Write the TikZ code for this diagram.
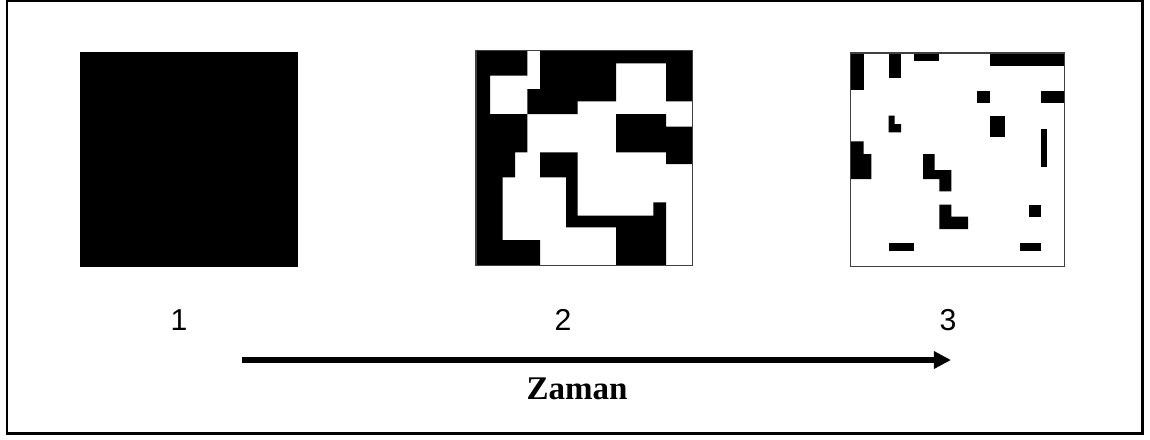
\documentclass[tikz,border=0pt]{standalone}
\usepackage{fontspec}
\setmainfont{Liberation Serif}
\newfontfamily\arialf{Liberation Sans}
\usetikzlibrary{arrows.meta}
\begin{document}
\begin{tikzpicture}[x=0.25mm,y=-0.25mm,
  frame/.style={draw=black,line width=0.65mm},
  blk/.style={fill=black,draw=none},
  sqborder/.style={draw=black!75,line width=0.35mm,fill=white},
  numlbl/.style={font=\arialf\fontsize{21.5}{24}\selectfont,inner sep=0pt},
  timelbl/.style={font=\bfseries\fontsize{23.5}{26}\selectfont,inner sep=0pt,anchor=base},
  timearrow/.style={line width=1.4mm,-{Triangle[length=4.3mm,width=4.2mm]}}]
\useasboundingbox (0,0) rectangle (1150,439);
\draw[frame] (7,1) rectangle (1142.5,433.5);
% square 1
\fill[blk] (80,52) rectangle (298,267);
% square 2
\begin{scope}[shift={(470,44)},scale=1/3]
  \draw[sqborder] (18,20) rectangle (668,665);
  \fill[blk] (18,20) -- (172,20) -- (172,95) -- (60,95) -- (60,210) -- (172,210) -- (172,325) -- (135,325) -- (135,400) -- (98,400) -- (98,588) -- (210,588) -- (210,665) -- (18,665) -- cycle;
  \fill[blk] (210,20) -- (668,20) -- (668,172) -- (588,172) -- (588,58) -- (438,58) -- (438,172) -- (323,172) -- (323,210) -- (172,210) -- (172,135) -- (210,135) -- cycle;
  \fill[blk] (438,210) -- (588,210) -- (588,248) -- (668,248) -- (668,360) -- (588,360) -- (588,325) -- (438,325) -- cycle;
  \fill[blk] (210,325) -- (323,325) -- (323,515) -- (550,515) -- (550,475) -- (588,475) -- (588,665) -- (438,665) -- (438,550) -- (288,550) -- (288,400) -- (210,400) -- cycle;
  \draw[draw=black!75,line width=0.35mm] (18,20) rectangle (668,665);
\end{scope}
% square 3
\begin{scope}[shift={(842,44)},scale=1/3]
  \draw[sqborder] (25,27) rectangle (668,668);
  \fill[blk] (25,27) rectangle (65,138);
  \fill[blk] (140,27) rectangle (177,102);
  \fill[blk] (215,27) rectangle (292,50);
  \fill[blk] (445,27) rectangle (668,65);
  \fill[blk] (405,140) rectangle (445,177);
  \fill[blk] (597,140) rectangle (668,177);
  \fill[blk] (140,215) -- (158,215) -- (158,240) -- (177,240) -- (177,265) -- (140,265) -- cycle;
  \fill[blk] (445,215) rectangle (490,280);
  \fill[blk] (597,255) rectangle (615,368);
  \fill[blk] (25,292) -- (65,292) -- (65,330) -- (88,330) -- (88,405) -- (25,405) -- cycle;
  \fill[blk] (243,330) -- (278,330) -- (278,378) -- (328,378) -- (328,442) -- (292,442) -- (292,405) -- (243,405) -- cycle;
  \fill[blk] (292,482) -- (328,482) -- (328,518) -- (378,518) -- (378,555) -- (292,555) -- cycle;
  \fill[blk] (560,482) rectangle (597,518);
  \fill[blk] (140,597) rectangle (217,622);
  \fill[blk] (533,597) rectangle (597,622);
  \draw[draw=black!75,line width=0.35mm] (25,27) rectangle (668,668);
\end{scope}
% labels
\node[numlbl] (l1) at (179,320) {1};
\node[numlbl] (l2) at (563,320) {2};
\node[numlbl] (l3) at (948,320) {3};
% time arrow
\coordinate (astart) at (242,360);
\coordinate (aend) at (951,360);
\draw[timearrow] (astart) -- (aend);
\node[timelbl] (zaman) at (577,399) {Zaman};
\end{tikzpicture}
\end{document}
